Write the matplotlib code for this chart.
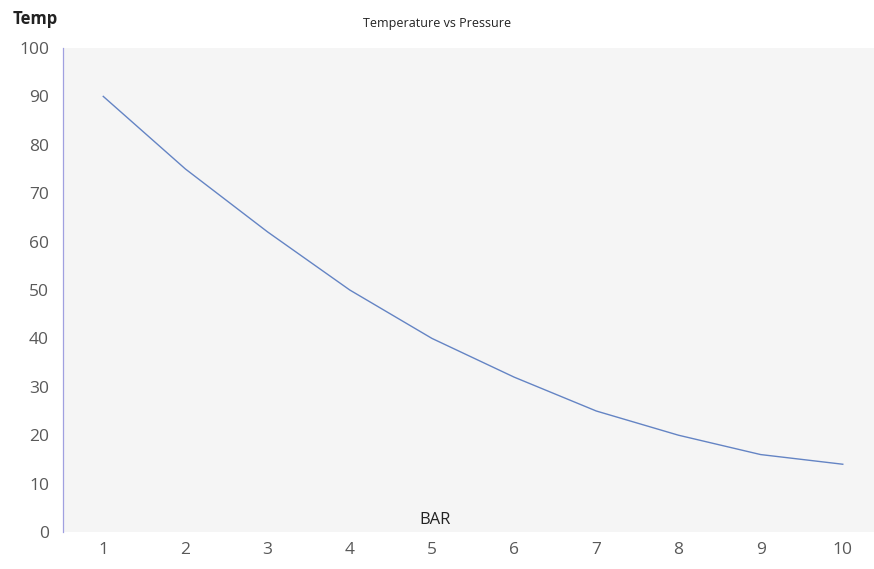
import matplotlib
matplotlib.use("Agg")
import matplotlib.pyplot as plt

# data
pressure = [1, 2, 3, 4, 5, 6, 7, 8, 9, 10]
temperature = [90, 75, 62, 50, 40, 32, 25, 20, 16, 14]
y_ticks = [0, 10, 20, 30, 40, 50, 60, 70, 80, 90, 100]

plt.rcParams["font.family"] = ["Open Sans", "DejaVu Sans"]

fig = plt.figure(figsize=(8.74, 5.69), dpi=100)
fig.patch.set_facecolor("white")
ax = fig.add_axes([63 / 874, 1 - 532 / 569, 1 - 63 / 874, (532 - 48) / 569])
ax.set_facecolor("#f5f5f5")

ax.plot(pressure, temperature, color="#6484c4", linewidth=1.0)

ax.set_xlim(0.51, 10.38)
ax.set_ylim(0, 100)
ax.set_xticks(pressure)
ax.set_yticks(y_ticks)
ax.tick_params(axis="both", length=0, colors="#595959", labelsize=12.5)
ax.tick_params(axis="x", pad=7)
ax.tick_params(axis="y", pad=10)

for side in ["top", "right", "bottom"]:
    ax.spines[side].set_visible(False)
ax.spines["left"].set_color("#a0a0e0")
ax.spines["left"].set_linewidth(0.9)

fig.text(35 / 874, 1 - 19 / 569, "Temp", ha="center", va="center",
         fontsize=12, fontweight="bold", color="#222222")
fig.text(437 / 874, 1 - 24 / 569, "Temperature vs Pressure", ha="center",
         va="center", fontsize=9, color="#222222")
fig.text(435 / 874, 1 - 520 / 569, "BAR", ha="center", va="center",
         fontsize=12, color="#222222")

fig.savefig("out.png", dpi=100)
